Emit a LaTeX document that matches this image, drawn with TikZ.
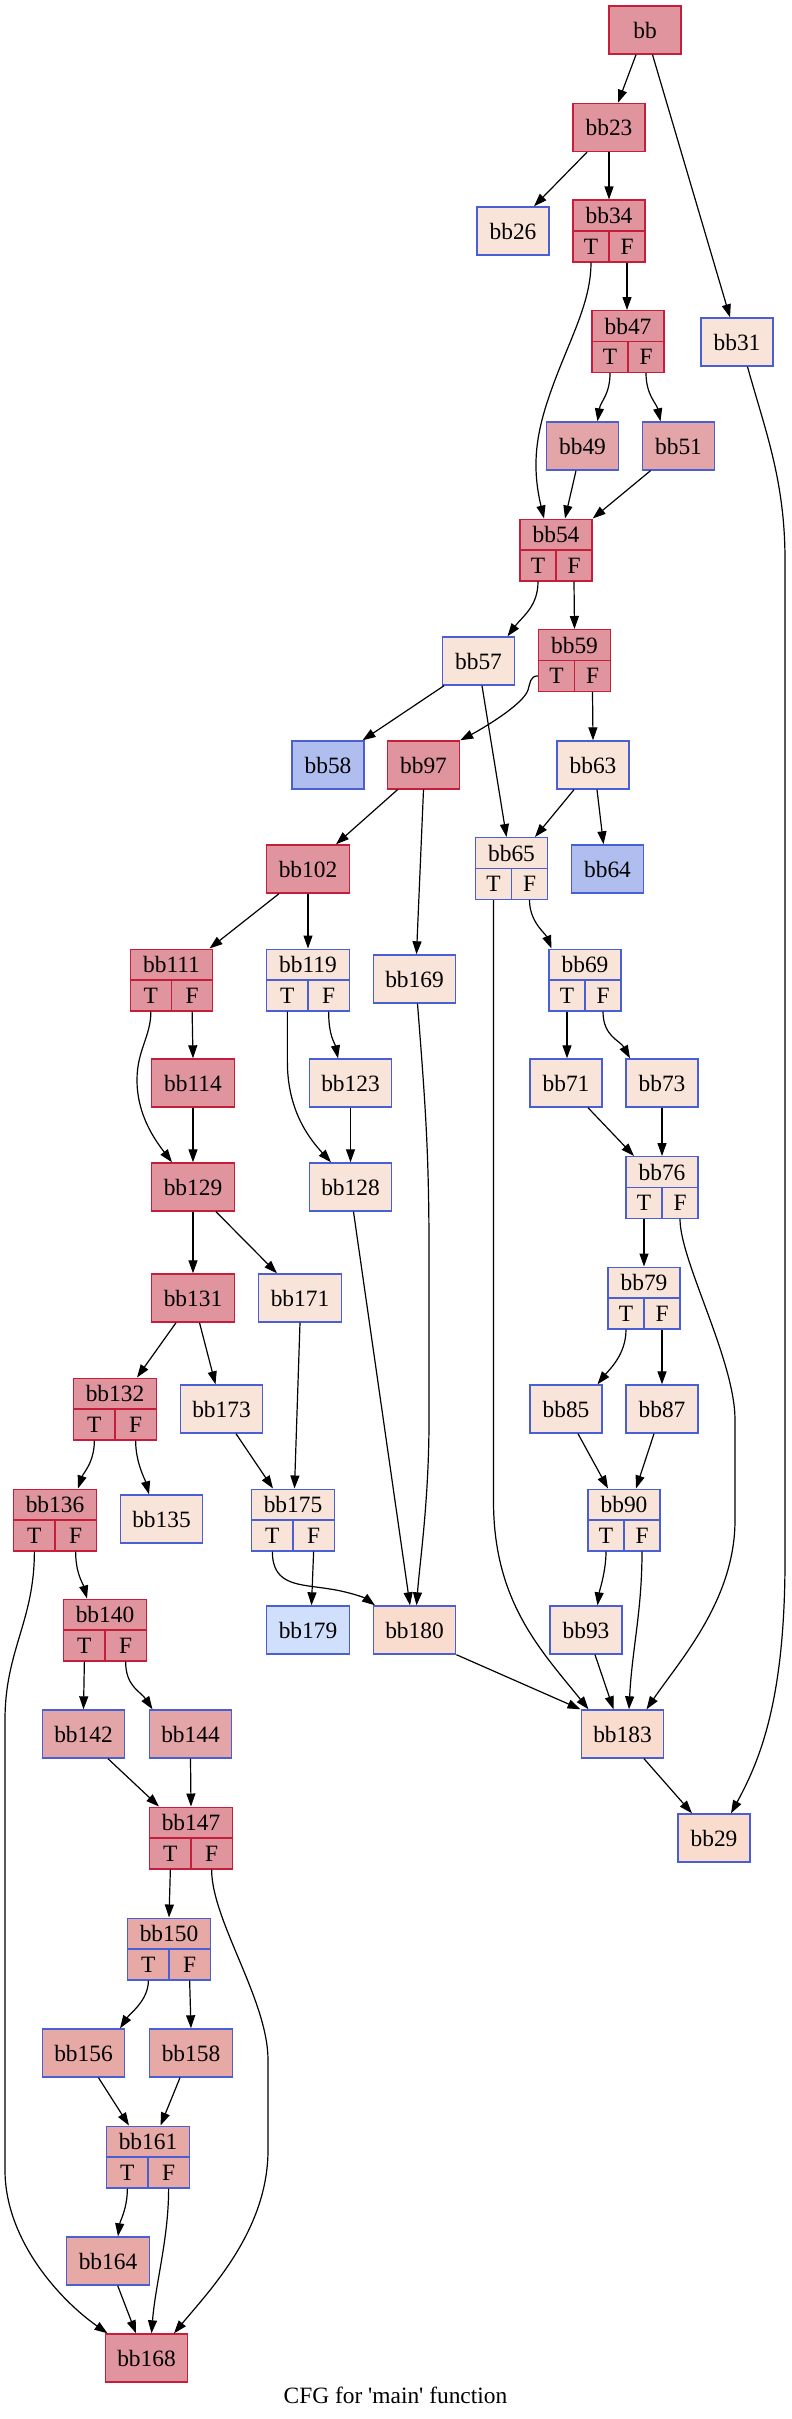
\documentclass[tikz,border=0pt]{standalone}
\usepackage{fontspec}
\setmainfont{Liberation Serif}[Ligatures=TeXOff]
\usetikzlibrary{arrows.meta}
\definecolor{hotf}{HTML}{E0949E}
\definecolor{warmf}{HTML}{E4A5A8}
\definecolor{warmg}{HTML}{E6A9A6}
\definecolor{peachf}{HTML}{F9E4DA}
\definecolor{peachg}{HTML}{FADCCF}
\definecolor{coldf}{HTML}{B0BEEF}
\definecolor{coldlf}{HTML}{CFDFFC}
\definecolor{redb}{HTML}{C41E3A}
\definecolor{blueb}{HTML}{4A5FD3}
\newcommand\nfont{\fontsize{23.4}{28}\selectfont}
\newcommand\simnode[5]{\node[bx,#5,minimum width=#4] (#1) at (#2,#3) {#1};}
\newcommand\recnode[5]{%
 \node[bx,#5,minimum width=#4,minimum height=30.8] (#1) at (#2,#3-15.4) {#1};
 \node[bx,#5,minimum width=#4/2,minimum height=30.8] (#1T) at (#2-#4/4,#3+15.4) {T};
 \node[bx,#5,minimum width=#4/2,minimum height=30.8] (#1F) at (#2+#4/4,#3+15.4) {F};}
\tikzset{
 bx/.style={draw,line width=1.4pt,inner sep=0pt,minimum height=48,font=\nfont},
 sHot/.style={fill=hotf,draw=redb},
 sWarm/.style={fill=warmf,draw=blueb},
 sWarmB/.style={fill=warmg,draw=blueb},
 sPeach/.style={fill=peachf,draw=blueb},
 sPeachB/.style={fill=peachg,draw=blueb},
 sCold/.style={fill=coldf,draw=blueb},
 sColdL/.style={fill=coldlf,draw=blueb},
 cfe/.style={draw=black,line width=1.2pt,-{Triangle[length=13pt,width=9pt]}}
}
\begin{document}
\begin{tikzpicture}[x=1pt,y=-1pt]
\useasboundingbox (0,0) rectangle (792,2419);
\fill[white] (0,0) rectangle (792,2419);
% nodes
\simnode{bb}{645}{30}{72}{sHot}
\simnode{bb23}{609}{127.5}{72}{sHot}
\simnode{bb26}{513}{231}{72}{sPeach}
\recnode{bb34}{609}{231}{72}{sHot}
\simnode{bb31}{737}{342}{72}{sPeach}
\recnode{bb47}{628}{341.5}{72}{sHot}
\simnode{bb49}{582.5}{446}{72}{sWarm}
\simnode{bb51}{678.5}{446}{72}{sWarm}
\recnode{bb54}{556}{550}{72}{sHot}
\simnode{bb57}{478.5}{661}{72}{sPeach}
\recnode{bb59}{574.5}{660.5}{72}{sHot}
\simnode{bb58}{328}{765}{72}{sCold}
\simnode{bb97}{423.5}{765}{72}{sHot}
\simnode{bb63}{593}{765}{72}{sPeach}
\simnode{bb102}{308}{869}{82.5}{sHot}
\recnode{bb65}{511.5}{868.5}{72}{sPeach}
\simnode{bb64}{607.5}{869}{72}{sCold}
\recnode{bb111}{171.5}{980}{82.5}{sHot}
\recnode{bb119}{308}{980}{82.5}{sPeach}
\simnode{bb169}{414.5}{979}{82.5}{sPeach}
\recnode{bb69}{585}{980}{72}{sPeach}
\simnode{bb114}{193}{1083}{82.5}{sHot}
\simnode{bb123}{350.5}{1083}{82.5}{sPeach}
\simnode{bb71}{566}{1083}{72}{sPeach}
\simnode{bb73}{662}{1083}{72}{sPeach}
\simnode{bb129}{193}{1187}{82.5}{sHot}
\simnode{bb128}{350.5}{1187}{82.5}{sPeach}
\recnode{bb76}{662}{1187.5}{72}{sPeach}
\simnode{bb131}{193}{1298}{82.5}{sHot}
\simnode{bb171}{300}{1298}{82.5}{sPeach}
\recnode{bb79}{644}{1298}{72}{sPeach}
\recnode{bb132}{115}{1409}{82.5}{sHot}
\simnode{bb173}{221.5}{1409}{82.5}{sPeach}
\simnode{bb85}{566}{1409}{72}{sPeach}
\simnode{bb87}{662}{1409}{72}{sPeach}
\recnode{bb136}{55}{1520}{82.5}{sHot}
\simnode{bb135}{161.5}{1519}{82.5}{sPeach}
\recnode{bb175}{293}{1520}{82.5}{sPeach}
\recnode{bb90}{624}{1520}{72}{sPeach}
\recnode{bb140}{105}{1630}{82.5}{sHot}
\simnode{bb179}{308}{1630}{82.5}{sColdL}
\simnode{bb180}{414.5}{1630}{82.5}{sPeachB}
\simnode{bb93}{586}{1630}{72}{sPeach}
\simnode{bb142}{83.5}{1734}{82.5}{sWarm}
\simnode{bb144}{190.5}{1734}{82.5}{sWarm}
\simnode{bb183}{622.5}{1734}{82.5}{sPeachB}
\recnode{bb147}{191}{1838}{82.5}{sHot}
\simnode{bb29}{714}{1838}{72}{sPeachB}
\recnode{bb150}{169}{1949}{82.5}{sWarmB}
\simnode{bb156}{83.5}{2053}{82.5}{sWarmB}
\simnode{bb158}{191}{2053}{82.5}{sWarmB}
\recnode{bb161}{148}{2157}{82.5}{sWarmB}
\simnode{bb164}{108}{2261}{82.5}{sWarmB}
\simnode{bb168}{146.5}{2358}{82.5}{sHot}
\node[font=\nfont,anchor=base] (cap) at (395.5,2403) {CFG for 'main' function};
% edges
\draw[cfe] ([xshift=-9pt]bb.south) -- ([xshift=9pt]bb23.north);
\draw[cfe] ([xshift=7.5pt]bb.south) -- ([xshift=-7pt]bb31.north);
\draw[cfe] ([xshift=-22pt]bb23.south) -- ([xshift=21pt]bb26.north);
\draw[cfe] (bb23.south) -- (bb34.north);
\draw[cfe] (bb34T.south) .. controls +(0,38) and (572,335) .. (555,380) .. controls (538,425) and (530,460) .. ([xshift=-12pt]bb54.north);
\draw[cfe] (bb34F.south) -- ([xshift=-1pt]bb47.north);
\draw[cfe] (bb47T.south) .. controls +(0,22) and +(3,-20) .. ([xshift=15pt]bb49.north);
\draw[cfe] (bb47F.south) .. controls +(0,22) and +(-4,-18) .. ([xshift=-18pt]bb51.north);
\draw[cfe] ([xshift=-6.5pt]bb49.south) -- ([xshift=9pt]bb54.north);
\draw[cfe] ([xshift=-28pt]bb51.south) -- (bb54.north east);
\draw[cfe] ([xshift=10.5pt]bb31.south) .. controls (765,430) and (785,480) .. (785,560) -- (785,1560) .. controls (785,1700) and (760,1760) .. ([xshift=17pt]bb29.north);
\draw[cfe] (bb54T.south) .. controls +(0,25) and +(15,-20) .. ([xshift=29pt]bb57.north);
\draw[cfe] (bb54F.south) -- (bb59.north);
\draw[cfe] ([xshift=-34.5pt]bb57.south) -- ([xshift=34.5pt]bb58.north);
\draw[cfe] ([xshift=3.5pt]bb57.south) -- ([xshift=-5pt]bb65.north);
\draw[cfe] (bb59T.west) .. controls +(-8,0) and +(2,-6) .. (528,690) .. controls (523,705) and (480,730) .. (bb97.north east);
\draw[cfe] (bb59F.south) -- (bb63.north);
\draw[cfe] ([xshift=-19pt]bb63.south) -- ([xshift=23.5pt]bb65.north);
\draw[cfe] ([xshift=4pt]bb63.south) -- ([xshift=-4pt]bb64.north);
\draw[cfe] ([xshift=-26pt]bb97.south) -- ([xshift=28pt]bb102.north);
\draw[cfe] (bb97.south) -- ([xshift=2pt]bb169.north);
\draw[cfe] ([xshift=-29pt]bb102.south) -- ([xshift=38pt]bb111.north);
\draw[cfe] (bb102.south) -- (bb119.north);
\draw[cfe] (bb65T.south) -- ++(0,601) .. controls +(0,100) and +(-48.5,-60) .. ([xshift=-34pt]bb183.north);
\draw[cfe] (bb65F.south) .. controls +(0,22) and +(-6,-15) .. ([xshift=-33.5pt]bb69.north);
\draw[cfe] (bb111T.south) .. controls +(0,25) and (137,1050) .. (137,1080) .. controls (137,1115) and (155,1140) .. ([xshift=-21pt]bb129.north);
\draw[cfe] (bb111F.south) -- (bb114.north);
\draw[cfe] (bb114.south) -- (bb129.north);
\draw[cfe] (bb119T.south) -- ++(0,50) .. controls +(0,50) and +(-21,-23) .. ([xshift=-19.5pt]bb128.north);
\draw[cfe] (bb119F.south) .. controls +(0,25) and +(-3,-15) .. ([xshift=-12.5pt]bb123.north);
\draw[cfe] (bb123.south) -- (bb128.north);
\draw[cfe] ([xshift=3pt]bb169.south) .. controls (425,1100) and (429,1150) .. (429,1250) -- (429,1420) .. controls (429,1500) and (420,1560) .. ([xshift=2pt]bb180.north);
\draw[cfe] (bb69T.south) -- ([xshift=1pt]bb71.north);
\draw[cfe] (bb69F.south) .. controls +(0,25) and +(-10,-18) .. ([xshift=-32pt]bb73.north);
\draw[cfe] ([xshift=22pt]bb71.south) -- ([xshift=-28pt]bb76.north);
\draw[cfe] (bb73.south) -- (bb76.north);
\draw[cfe] ([xshift=3pt]bb128.south) -- ([xshift=-4.5pt]bb180.north);
\draw[cfe] (bb76T.south) -- (bb79.north);
\draw[cfe] (bb76F.south) .. controls +(0,42) and (735,1360) .. (735,1420) -- (735,1520) .. controls (735,1600) and (680,1660) .. ([xshift=24pt]bb183.north);
\draw[cfe] (bb129.south) -- (bb131.north);
\draw[cfe] ([xshift=23pt]bb129.south) -- ([xshift=-23pt]bb171.north);
\draw[cfe] ([xshift=-17pt]bb131.south) -- ([xshift=22pt]bb132.north);
\draw[cfe] ([xshift=6.5pt]bb131.south) -- ([xshift=-6pt]bb173.north);
\draw[cfe] (bb171.south) -- ([xshift=1.5pt]bb175.north);
\draw[cfe] ([xshift=14.5pt]bb173.south) -- ([xshift=-20pt]bb175.north);
\draw[cfe] (bb79T.south) .. controls +(0,25) and +(12,-15) .. ([xshift=31.5pt]bb85.north);
\draw[cfe] (bb79F.south) -- (bb87.north);
\draw[cfe] ([xshift=12pt]bb85.south) -- ([xshift=-16pt]bb90.north);
\draw[cfe] ([xshift=-8pt]bb87.south) -- ([xshift=12pt]bb90.north);
\draw[cfe] (bb132T.south) .. controls +(0,22) and +(5,-15) .. ([xshift=23pt]bb136.north);
\draw[cfe] (bb132F.south) .. controls +(0,22) and +(-4,-15) .. ([xshift=-12.5pt]bb135.north);
\draw[cfe] (bb136T.south) .. controls +(0,70) and (5,1650) .. (5,1720) -- (5,2170) .. controls (5,2240) and (60,2300) .. ([xshift=-39pt]bb168.north);
\draw[cfe] (bb136F.south) .. controls +(0,22) and +(-4,-15) .. ([xshift=-18pt]bb140.north);
\draw[cfe] (bb175T.south) .. controls +(0,35) and (300,1584) .. (330,1589) .. controls (350,1592) and (365,1598) .. ([xshift=-39.5pt]bb180.north);
\draw[cfe] (bb175F.south) -- ([xshift=3.5pt]bb179.north);
\draw[cfe] (bb90T.south) .. controls +(0,20) and +(2,-15) .. ([xshift=11.5pt]bb93.north);
\draw[cfe] (bb90F.south) .. controls +(0,60) and +(3,-60) .. ([xshift=6.5pt]bb183.north);
\draw[cfe] (bb140T.south) -- (bb142.north);
\draw[cfe] (bb140F.south) .. controls +(0,25) and +(-12,-18) .. ([xshift=-38pt]bb144.north);
\draw[cfe] (bb180.south east) -- (bb183.north west);
\draw[cfe] ([xshift=9pt]bb93.south) -- ([xshift=-9pt]bb183.north);
\draw[cfe] ([xshift=24.5pt]bb142.south) -- ([xshift=-32pt]bb147.north);
\draw[cfe] (bb144.south) -- (bb147.north);
\draw[cfe] ([xshift=21.5pt]bb183.south) -- ([xshift=-22pt]bb29.north);
\draw[cfe] (bb147T.south) -- (bb150.north);
\draw[cfe] (bb147F.south) .. controls +(0,51) and (268,2000) .. (268,2060) -- (268,2150) .. controls (268,2230) and (210,2290) .. ([xshift=27.5pt]bb168.north);
\draw[cfe] (bb150T.south) .. controls +(0,20) and +(10,-15) .. ([xshift=36.5pt]bb156.north);
\draw[cfe] (bb150F.south) -- (bb158.north);
\draw[cfe] ([xshift=15pt]bb156.south) -- ([xshift=-19pt]bb161.north);
\draw[cfe] ([xshift=-11pt]bb158.south) -- ([xshift=12.5pt]bb161.north);
\draw[cfe] (bb161T.south) .. controls +(0,20) and +(2,-15) .. ([xshift=10pt]bb164.north);
\draw[cfe] (bb161F.south) .. controls +(0,50) and +(4,-50) .. ([xshift=5pt]bb168.north);
\draw[cfe] ([xshift=9.7pt]bb164.south) -- ([xshift=-10.5pt]bb168.north);
\end{tikzpicture}
\end{document}
